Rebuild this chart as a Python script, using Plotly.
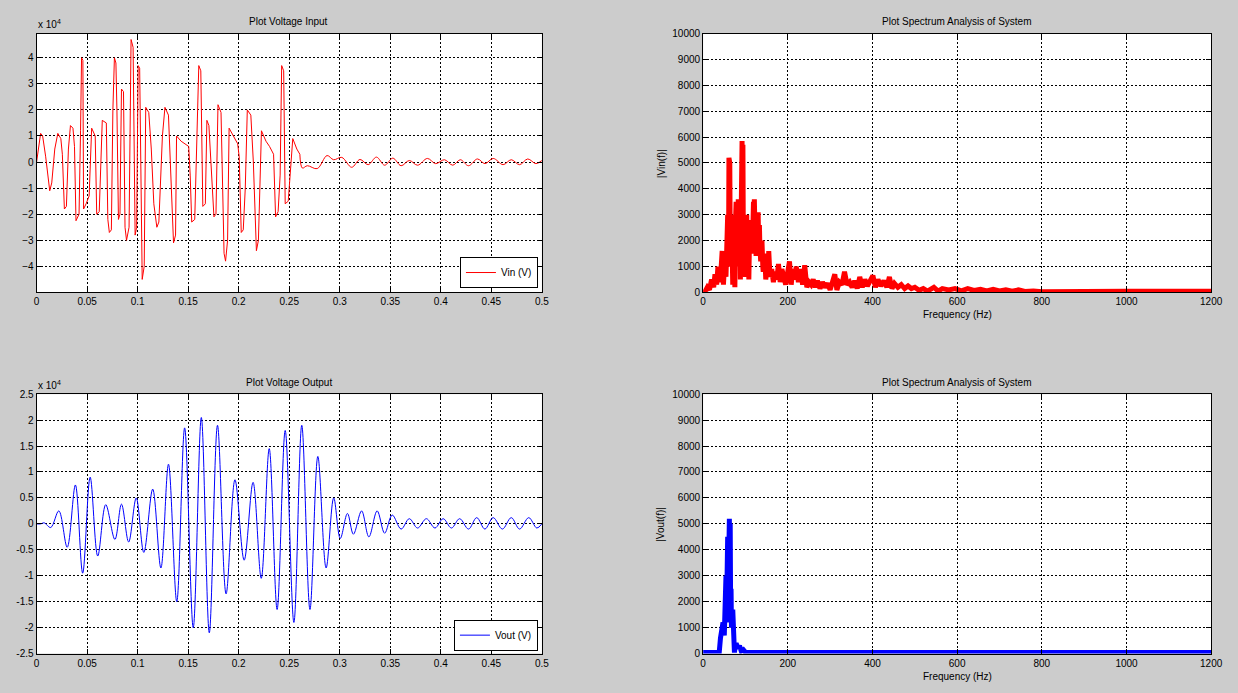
import plotly.graph_objects as go

# ---------------- data (voltages in units of 1e4 V) ----------------
vin_t = [0, 0.002, 0.004, 0.006, 0.009, 0.013, 0.015, 0.018, 0.021, 0.024, 0.0255, 0.0275, 0.0295,
         0.0315, 0.0335, 0.036, 0.0375, 0.039, 0.042, 0.0435, 0.0445, 0.0458, 0.0465, 0.049, 0.052,
         0.0545, 0.058, 0.0595, 0.062, 0.065, 0.069, 0.0705, 0.072, 0.074, 0.0755, 0.077, 0.0785,
         0.0795, 0.081, 0.0825, 0.084, 0.086, 0.0875, 0.089, 0.0915, 0.0935, 0.0955, 0.0975, 0.099,
         0.1005, 0.102, 0.1045, 0.1065, 0.108, 0.111, 0.1135, 0.116, 0.119, 0.121, 0.1245, 0.127,
         0.1305, 0.1335, 0.1355, 0.1375, 0.1385, 0.143, 0.1505, 0.152, 0.1535, 0.1565, 0.158, 0.1605,
         0.1625, 0.1645, 0.167, 0.1685, 0.1705, 0.1725, 0.1755, 0.1775, 0.1795, 0.1825, 0.1855, 0.187,
         0.189, 0.1905, 0.195, 0.199, 0.2005, 0.2025, 0.2045, 0.2065, 0.2085, 0.212, 0.2145, 0.2175,
         0.2195, 0.2225, 0.227, 0.2305, 0.2345, 0.2365, 0.239, 0.241, 0.2425, 0.2445, 0.246, 0.249,
         0.2535, 0.2575, 0.2605,
         0.263, 0.2679, 0.2777, 0.2874, 0.2939, 0.302, 0.3118, 0.32, 0.3281, 0.3363, 0.3444, 0.3525,
         0.3607, 0.3688, 0.377, 0.3867, 0.3949, 0.4036, 0.4118, 0.4193, 0.4274, 0.4362, 0.4437, 0.4518,
         0.4616, 0.4697, 0.4779, 0.486, 0.4941, 0.5]
vin_v = [0, 0.6, 1.1, 1.0, 0.2, -1.1, -0.8, 0.5, 1.1, 0.9, 0.3, -1.8, -1.7,
         0.5, 1.4, 1.3, 0.6, -2.25, -2.0, 1.2, 4.0, 3.9, -1.8, -1.6, -1.3,
         1.3, 1.0, -2.0, -1.9, 1.6, 1.5, -2.2, -2.7, -2.6, 2.0, 4.0, 3.8,
         2.0, -2.2, -2.0, 2.8, 2.7, -2.5, -3.0, -2.5, 4.7, 4.4, -2.8, -2.5,
         3.7, 3.6, -4.5, -4.0, 2.1, 1.9, 0.5, -1.6, -2.5, -2.3, 1.0, 2.1,
         1.8, -1.5, -3.1, -2.8, 1.0, 0.8, 0.6, -0.5, -2.3, -2.2, 0.5, 3.7,
         3.5, -1.7, -1.6, 1.6, 1.4, 0.0, -2.1, -2.0, 2.2, 1.9, -3.5, -3.8,
         -3.0, 1.3, 1.0, 0.7, 0.2, -2.7, -2.6, -1.0, 2.0, 1.8, 0.0, -3.4,
         -3.0, 1.2, 0.8, 0.6, 0.3, -2.1, -1.9, -0.5, 3.7, 3.5, -1.6, -1.5,
         0.9, 0.5, 0.3,
         -0.23, -0.14, -0.25, 0.25, 0.09, 0.18, -0.2, 0.1, -0.1, 0.19, -0.12, 0.15,
         -0.14, 0.06, -0.12, 0.14, -0.06, 0.09, -0.12, 0.09, -0.14, 0.12, -0.06, 0.14,
         -0.1, 0.09, -0.1, 0.12, -0.06, 0.06]

vout_t = [0, 0.004, 0.0075, 0.014, 0.022, 0.0303, 0.0384, 0.0456, 0.053, 0.0605, 0.0684, 0.0775,
          0.084, 0.0911, 0.0986, 0.1061, 0.1149, 0.123, 0.1305, 0.1387, 0.1465, 0.155, 0.163, 0.1709,
          0.179, 0.1875, 0.1963, 0.2054, 0.2142, 0.2223, 0.2302, 0.238, 0.246, 0.2546, 0.2624, 0.2705,
          0.2783, 0.2865, 0.294, 0.3005, 0.3076, 0.3135, 0.3216, 0.3288, 0.337, 0.3444, 0.3519, 0.3607,
          0.3688, 0.377, 0.3857, 0.3942, 0.4023, 0.4105, 0.4186, 0.4274, 0.4355, 0.4436, 0.4518, 0.4609,
          0.4697, 0.4779, 0.487, 0.495, 0.5]
vout_v = [0, 0.0, 0.02, -0.07, 0.25, -0.45, 0.75, -0.95, 0.9, -0.62, 0.37, -0.3,
          0.38, -0.35, 0.5, -0.55, 0.67, -0.85, 1.15, -1.5, 1.85, -2.0, 2.05, -2.1,
          1.9, -1.35, 0.85, -0.7, 0.8, -1.05, 1.45, -1.65, 1.8, -1.9, 1.9, -1.65,
          1.3, -0.85, 0.5, -0.28, 0.2, -0.2, 0.25, -0.25, 0.25, -0.18, 0.17, -0.1,
          0.1, -0.08, 0.1, -0.08, 0.1, -0.08, 0.1, -0.1, 0.12, -0.1, 0.12, -0.1,
          0.12, -0.1, 0.12, -0.08, 0.0]

spec_in_f = [0, 5, 10, 15, 20, 25, 28, 32, 35, 38, 42, 45, 48, 50, 52, 54, 55, 57, 58, 60, 61, 62, 63,
             64, 66, 67, 68, 69, 70, 72, 73, 74, 75, 77, 78, 79, 80, 82, 83, 84, 85, 87, 88, 89, 90, 91,
             92, 93, 94, 95, 96, 97, 98, 99, 100, 102, 103, 104, 105, 107, 108, 109, 110, 112, 113, 115,
             116, 118, 119, 120, 121, 123, 124, 125, 127, 128, 130, 131, 133, 134, 136, 138, 139, 141,
             142, 144, 145, 147, 148, 150, 152, 154, 155, 157, 158, 162, 166, 170, 174, 178, 182, 186,
             190, 195, 200, 204, 208, 212, 216, 220, 225, 230, 235, 240, 245, 250, 255, 260, 265, 270,
             276, 282, 288, 294, 300, 306, 311, 316, 322, 328, 334, 340, 346, 352, 358, 364, 370, 376,
             382, 388, 394, 401, 407, 413, 420, 427, 434, 440, 446, 452, 460, 468, 476, 484, 492, 500,
             510, 520, 530, 545, 555, 565, 580, 595, 610, 625, 640, 655, 670, 685, 700, 715, 730, 745,
             760, 780, 800, 830, 860, 890, 920, 1000, 1100, 1200]
spec_in_m = [100, 50, 200, 100, 500, 200, 700, 300, 1000, 400, 800, 1600, 300, 1200, 1500, 600, 2500,
             1000, 3000, 1200, 5200, 1500, 5000, 2000, 1000, 3000, 1500, 2800, 300, 2000, 2500, 1000, 200,
             3000, 3500, 1500, 2500, 1200, 3600, 2000, 1000, 2500, 500, 1500, 2000, 3500, 5850, 3000, 5700,
             2000, 1500, 2800, 3000, 1500, 600, 2500, 3000, 1800, 2500, 1500, 500, 1500, 2000, 2800, 1500,
             2500, 1500, 3000, 3500, 2200, 3600, 2000, 2500, 1500, 1500, 2500, 3100, 2000, 2600, 1800, 1200,
             1800, 2000, 1000, 800, 1200, 1500, 900, 500, 800, 1100, 700, 1600, 1000, 600, 900, 400, 800,
             500, 1100, 400, 900, 700, 300, 800, 1200, 300, 900, 500, 1000, 400, 900, 300, 1050, 200, 400,
             300, 500, 200, 450, 150, 400, 200, 350, 100, 500, 700, 100, 400, 300, 800, 300, 400, 200, 450,
             150, 600, 200, 500, 250, 450, 650, 200, 500, 250, 450, 200, 600, 150, 350, 200, 300, 150, 250,
             150, 200, 80, 150, 50, 200, 50, 150, 100, 150, 60, 150, 80, 120, 60, 120, 60, 100, 50, 100,
             40, 60, 30, 40, 20, 30, 50, 50, 50, 50]

spec_out_f = [0, 30, 38, 41, 44, 47, 50, 52, 53, 54, 55, 56, 57, 58, 59, 60, 61, 62, 63, 64, 65, 66,
              67, 68, 69, 70, 72, 74, 76, 78, 82, 86, 90, 95, 100, 110, 120, 1200]
spec_out_m = [40, 40, 40, 600, 1100, 1200, 700, 2200, 1100, 3000, 1200, 3500, 1500, 4500, 2000, 5200,
              3000, 5200, 2500, 5000, 1500, 2500, 1000, 2300, 1200, 1700, 300, 40, 300, 400, 200, 300,
              100, 150, 50, 40, 40, 40]

time_ticks = [0, 0.05, 0.1, 0.15, 0.2, 0.25, 0.3, 0.35, 0.4, 0.45, 0.5]
time_tick_labels = ["0", "0.05", "0.1", "0.15", "0.2", "0.25", "0.3", "0.35", "0.4", "0.45", "0.5"]
vin_ticks = [-4, -3, -2, -1, 0, 1, 2, 3, 4]
vout_ticks = [-2.5, -2, -1.5, -1, -0.5, 0, 0.5, 1, 1.5, 2, 2.5]
vout_tick_labels = ["-2.5", "-2", "-1.5", "-1", "-0.5", "0", "0.5", "1", "1.5", "2", "2.5"]
freq_ticks = [0, 200, 400, 600, 800, 1000, 1200]
mag_ticks = [0, 1000, 2000, 3000, 4000, 5000, 6000, 7000, 8000, 9000, 10000]
mag_tick_labels = ["0", "1000", "2000", "3000", "4000", "5000", "6000", "7000", "8000", "9000", "10000"]

# ---------------- figure ----------------
W, H = 1238, 693
FONT = "Liberation Sans, Arial, sans-serif"

def px(x):
    return x / W

def py(y):
    return 1 - y / H

fig = go.Figure()

split = next(i for i, t in enumerate(vin_t) if t >= 0.2605)
fig.add_trace(go.Scatter(x=vin_t[:split + 1], y=vin_v[:split + 1], mode="lines",
                         line=dict(color="#ff0000", width=1), name="Vin (V)",
                         xaxis="x", yaxis="y", legend="legend"))
fig.add_trace(go.Scatter(x=vin_t[split:], y=vin_v[split:], mode="lines",
                         line=dict(color="#ff0000", width=1, shape="spline", smoothing=1),
                         showlegend=False, xaxis="x", yaxis="y"))
fig.add_trace(go.Scatter(x=spec_in_f, y=spec_in_m, mode="lines",
                         line=dict(color="#ff0000", width=5), showlegend=False,
                         xaxis="x2", yaxis="y2"))
fig.add_trace(go.Scatter(x=vout_t, y=vout_v, mode="lines",
                         line=dict(color="#0000ff", width=1, shape="spline", smoothing=1),
                         name="Vout (V)", xaxis="x3", yaxis="y3", legend="legend2"))
fig.add_trace(go.Scatter(x=spec_out_f, y=spec_out_m, mode="lines",
                         line=dict(color="#0000ff", width=5), showlegend=False,
                         xaxis="x4", yaxis="y4"))

ax = dict(showline=True, linecolor="black", linewidth=1, mirror="ticks", ticks="inside",
          ticklen=5, tickcolor="black", showgrid=True, gridcolor="#000000", griddash="2px,2px",
          gridwidth=1, zeroline=False, tickfont=dict(family=FONT, size=10, color="black"))

LX = [px(34), px(545.5)]
RX = [px(708.7), px(1223)]
TY = [py(291.5), py(28)]
BY = [py(659), py(395)]

fig.update_layout(
    width=W, height=H, margin=dict(l=0, r=0, t=0, b=0),
    paper_bgcolor="#cccccc", plot_bgcolor="white",
    font=dict(family=FONT, size=10, color="black"),
    xaxis=dict(ax, domain=LX, range=[0, 0.5], tickvals=time_ticks, ticktext=time_tick_labels, anchor="y"),
    yaxis=dict(ax, domain=TY, range=[-5.0, 4.93], tickvals=vin_ticks, anchor="x"),
    xaxis2=dict(ax, domain=RX, range=[0, 1200], tickvals=freq_ticks, anchor="y2"),
    yaxis2=dict(ax, domain=TY, range=[0, 10000], tickvals=mag_ticks, ticktext=mag_tick_labels, anchor="x2"),
    xaxis3=dict(ax, domain=LX, range=[0, 0.5], tickvals=time_ticks, ticktext=time_tick_labels, anchor="y3"),
    yaxis3=dict(ax, domain=BY, range=[-2.5, 2.5], tickvals=vout_ticks, ticktext=vout_tick_labels, anchor="x3"),
    xaxis4=dict(ax, domain=RX, range=[0, 1200], tickvals=freq_ticks, anchor="y4"),
    yaxis4=dict(ax, domain=BY, range=[0, 10000], tickvals=mag_ticks, ticktext=mag_tick_labels, anchor="x4"),
    legend=dict(x=px(541.5), y=py(287), xanchor="right", yanchor="bottom",
                bgcolor="white", bordercolor="black", borderwidth=1, itemwidth=30,
                font=dict(family=FONT, size=10, color="black"), tracegroupgap=0),
    legend2=dict(x=px(541.5), y=py(656), xanchor="right", yanchor="bottom",
                 bgcolor="white", bordercolor="black", borderwidth=1, itemwidth=30,
                 font=dict(family=FONT, size=10, color="black"), tracegroupgap=0),
)

def note(text, x, y, xanchor="center", yanchor="middle", angle=0, size=10):
    fig.add_annotation(text=text, x=px(x), y=py(y), xref="paper", yref="paper",
                       xanchor=xanchor, yanchor=yanchor, showarrow=False, textangle=angle,
                       font=dict(family=FONT, size=size, color="black"))

note("Plot Voltage Input", 289.5, 16)
note("Plot Spectrum Analysis of System", 966, 16)
note("Plot Voltage Output", 289.5, 383)
note("Plot Spectrum Analysis of System", 966, 383)
note("Frequency (Hz)", 966, 314)
note("Frequency (Hz)", 966, 682)
note("|Vin(f)|", 666, 160, angle=-90)
note("|Vout(f)|", 666, 527, angle=-90)
note("x 10<sup>4</sup>", 33, 18, xanchor="left")
note("x 10<sup>4</sup>", 33, 386, xanchor="left")

page_fix = (
    "document.documentElement.style.margin='0';"
    "document.documentElement.style.padding='0';"
    "document.documentElement.style.overflow='hidden';"
    "document.body.style.margin='0';"
    "document.body.style.padding='0';"
    "document.body.style.overflow='hidden';"
    "var gd=document.getElementById('{plot_id}');"
    "gd.style.display='block';"
    "if(gd.parentElement){gd.parentElement.style.display='block';gd.parentElement.style.lineHeight='0';}"
    "var vw=document.documentElement.clientWidth||window.innerWidth;"
    "var vh=document.documentElement.clientHeight||window.innerHeight;"
    "if(vw>100&&vh>100&&(vw!==gd.layout.width||vh!==gd.layout.height)){"
    "Plotly.relayout(gd,{width:vw,height:vh});}"
    "window.scrollTo(0,0);"
)

fig.write_html("out.html", config={"displayModeBar": False, "responsive": False},
               post_script=page_fix)
